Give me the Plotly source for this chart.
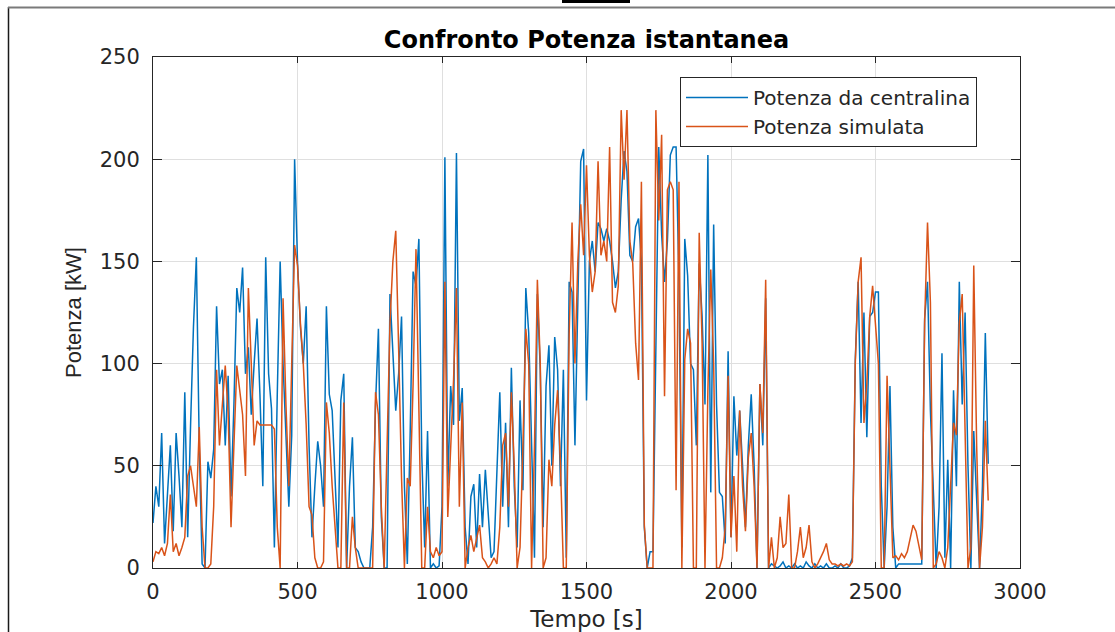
import plotly.graph_objects as go

# Sampling grid of the logged run [s]
tempo = list(range(0, 2900, 10))

# Power read from the engine control unit [kW]
potenza_centralina = [
    22, 40, 30, 66, 12, 38, 60, 18, 66, 45,
    20, 86, 15, 70, 118, 152, 60, 2, 0, 52,
    44, 58, 128, 90, 97, 60, 94, 35, 80, 137,
    125, 147, 95, 108, 75, 100, 122, 85, 40, 152,
    95, 78, 10, 85, 150, 100, 60, 30, 65, 200,
    150, 118, 100, 128, 60, 15, 40, 62, 50, 30,
    128, 85, 77, 45, 10, 82, 95, 0, 40, 64,
    10, 8, 3, 0, 0, 0, 20, 80, 117, 25,
    0, 0, 134, 107, 77, 95, 123, 40, 2, 67,
    145, 138, 161, 55, 10, 67, 0, 2, 0, 1,
    30, 201, 40, 89, 70, 203, 72, 88, 20, 2,
    35, 41, 10, 46, 20, 48, 25, 5, 8, 49,
    86, 30, 71, 20, 98, 40, 10, 82, 38, 137,
    115, 61, 5, 134, 97, 20, 89, 109, 50, 113,
    97, 40, 97, 5, 140, 135, 60, 130, 199, 205,
    82, 150, 160, 145, 169, 166, 160, 166, 160, 150,
    137, 145, 180, 204, 194, 153, 150, 167, 171, 150,
    20, 0, 8, 8, 120, 206, 163, 140, 160, 202,
    206, 206, 140, 10, 161, 143, 100, 97, 60, 149,
    123, 80, 202, 37, 168, 80, 37, 35, 12, 106,
    15, 84, 55, 77, 50, 20, 60, 85, 50, 0,
    90, 60, 132, 0, 2, 1, 0, 1, 3, 0,
    1, 0, 2, 0, 1, 0, 3, 1, 0, 2,
    0, 1, 0, 2, 0, 0, 1, 0, 2, 0,
    0, 1, 5, 102, 140, 71, 125, 64, 123, 125,
    135, 135, 40, 0, 30, 89, 20, 0, 2, 2,
    2, 2, 2, 2, 2, 2, 2, 122, 140, 77,
    40, 0, 30, 105, 5, 53, 0, 87, 40, 140,
    80, 125, 50, 0, 67, 30, 0, 40, 115, 51,
]

# Power from the vehicle model [kW]
potenza_simulata = [
    3, 8, 7, 10, 6, 12, 36, 8, 12, 6,
    10, 15, 45, 50, 40, 30, 69, 20, 0, 0,
    2, 30, 97, 60, 80, 99, 76, 20, 60, 99,
    87, 75, 45, 137, 100, 60, 72, 70, 70, 70,
    70, 70, 68, 20, 0, 132, 80, 40, 100, 158,
    148, 120, 100, 70, 30, 26, 5, 0, 0, 3,
    81, 66, 40, 21, 0, 0, 81, 0, 0, 25,
    10, 0, 0, 0, 0, 0, 0, 86, 75, 30,
    0, 60, 120, 150, 165, 107, 44, 0, 44, 40,
    90, 156, 76, 0, 0, 30, 8, 5, 10, 6,
    8, 140, 25, 60, 92, 137, 30, 81, 0, 10,
    16, 8, 14, 21, 5, 3, 0, 2, 5, 2,
    20, 60, 66, 30, 86, 50, 0, 10, 60, 117,
    100, 0, 60, 141, 100, 0, 5, 53, 40, 70,
    87, 50, 0, 0, 114, 169, 100, 150, 178, 153,
    197, 153, 135, 145, 199, 153, 160, 150, 206, 130,
    125, 138, 224, 190, 224, 160, 149, 110, 92, 189,
    21, 0, 0, 0, 224, 170, 212, 84, 185, 189,
    185, 38, 189, 0, 102, 117, 110, 0, 0, 164,
    110, 0, 87, 146, 100, 0, 0, 5, 20, 94,
    15, 45, 8, 77, 40, 18, 54, 66, 40, 0,
    90, 66, 141, 0, 15, 0, 5, 25, 10, 12,
    36, 0, 0, 8, 20, 5, 10, 21, 3, 0,
    2, 5, 8, 12, 4, 2, 2, 1, 2, 1,
    2, 1, 3, 100, 140, 152, 71, 90, 123, 138,
    120, 100, 0, 0, 94, 50, 5, 6, 4, 7,
    5, 8, 15, 21, 18, 10, 4, 120, 169, 130,
    0, 2, 8, 5, 0, 10, 40, 71, 65, 120,
    134, 60, 0, 10, 148, 60, 0, 20, 72, 33,
]

x_ticks = [0, 500, 1000, 1500, 2000, 2500, 3000]
y_ticks = [0, 50, 100, 150, 200, 250]

W, H = 1115, 632
L, R, T, B = 153, 1020, 57, 568  # plot box in pixels
PW, PH = R - L, B - T


def px(x):
    return (x - L) / PW


def py(y):
    return (B - y) / PH


AX_COL = "#262626"
FONT = "DejaVu Sans"

fig = go.Figure()
fig.add_trace(go.Scatter(x=tempo, y=potenza_centralina, mode="lines",
                         name="Potenza da centralina",
                         line=dict(color="#0072BD", width=1.5)))
fig.add_trace(go.Scatter(x=tempo, y=potenza_simulata, mode="lines",
                         name="Potenza simulata",
                         line=dict(color="#D95319", width=1.5)))

axis_common = dict(
    showline=True, linecolor=AX_COL, linewidth=1, mirror="ticks",
    ticks="inside", tickcolor=AX_COL, tickwidth=1,
    showgrid=True, gridcolor="#dfdfdf", gridwidth=1,
    zeroline=False, tickfont=dict(family=FONT, size=21, color=AX_COL),
)

fig.update_xaxes(range=[0, 3000], tickvals=x_ticks, ticklen=6,
                 ticklabelstandoff=5,
                 title=dict(text="Tempo [s]", standoff=8,
                            font=dict(family=FONT, size=23, color=AX_COL)),
                 **axis_common)
fig.update_yaxes(range=[0, 250], tickvals=y_ticks, ticklen=9,
                 ticklabelstandoff=8,
                 title=dict(text="Potenza [kW]", standoff=12,
                            font=dict(family="Liberation Sans", size=22, color=AX_COL)),
                 **axis_common)

frame_shapes = [
    # outer frame: left edge and top edge
    dict(type="line", xref="paper", yref="paper",
         x0=px(8.5), x1=px(8.5), y0=py(7), y1=py(640),
         line=dict(color="#1a1a1a", width=1.5)),
    dict(type="line", xref="paper", yref="paper",
         x0=px(8), x1=px(1120), y0=py(7.5), y1=py(7.5),
         line=dict(color="#7a7a7a", width=2)),
    dict(type="rect", xref="paper", yref="paper",
         x0=px(562), x1=px(630), y0=py(3), y1=py(-2),
         fillcolor="#000000", line=dict(width=0)),
]

fig.update_layout(
    width=W, height=H,
    margin=dict(l=L, r=W - R, t=T, b=H - B, autoexpand=False),
    paper_bgcolor="white", plot_bgcolor="white",
    title=dict(text="<b>Confronto Potenza istantanea</b>",
               x=(L + R) / 2 / W, xanchor="center",
               y=1 - 40 / H, yanchor="middle",
               font=dict(family=FONT, size=24, color="#000000")),
    legend=dict(x=px(680), y=py(77), xanchor="left", yanchor="top",
                bgcolor="white", bordercolor=AX_COL, borderwidth=1,
                font=dict(family=FONT, size=20, color=AX_COL),
                itemwidth=62, tracegroupgap=0),
    shapes=frame_shapes,
    showlegend=True,
)

fig.write_html("out.html", config={"displayModeBar": False})
